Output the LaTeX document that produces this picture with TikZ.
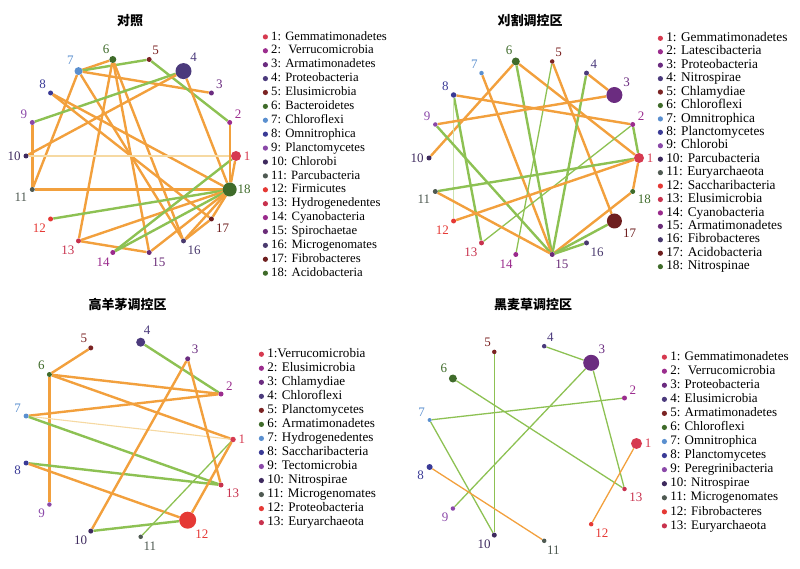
\documentclass[tikz,border=0pt]{standalone}
\usepackage{fontspec}
\setmainfont{Liberation Serif}
\newfontfamily\cjk{Noto Sans CJK SC}
\usetikzlibrary{backgrounds}
\definecolor{c1}{HTML}{D63A50}
\definecolor{c2}{HTML}{9B2D8E}
\definecolor{c3}{HTML}{6B2C80}
\definecolor{c4}{HTML}{4B3A7C}
\definecolor{c5}{HTML}{7B2323}
\definecolor{c6}{HTML}{3F6B2A}
\definecolor{c7}{HTML}{5A8FCF}
\definecolor{c8}{HTML}{3A3A96}
\definecolor{c9}{HTML}{8A48A8}
\definecolor{c10}{HTML}{3E2A5E}
\definecolor{c11}{HTML}{4F5A52}
\definecolor{c12}{HTML}{E53935}
\definecolor{c13}{HTML}{C8324E}
\definecolor{c14}{HTML}{9A2A8C}
\definecolor{c15}{HTML}{6A2C78}
\definecolor{c16}{HTML}{4A3A6E}
\definecolor{c17}{HTML}{6E1E1E}
\definecolor{c18}{HTML}{3F6B2A}
\definecolor{posc}{HTML}{F2A03D}
\definecolor{negc}{HTML}{8DC153}
\definecolor{faintc}{HTML}{F6D9A2}
\newcommand\legdot[1]{\raisebox{0.1ex}{\tikz\fill[#1] (0,0) circle (2.6pt);}}

\begin{document}
\begin{tikzpicture}[x=1pt,y=-1pt,
    taxon/.style={circle,inner sep=0pt,minimum size=#1},taxon/.default=5pt,
    every label/.style={font=\fontsize{13}{13}\selectfont,inner sep=2.5pt},
    posedge/.style={draw=posc,line width=2.4pt},
    negedge/.style={draw=negc,line width=2.4pt},
    thinpos/.style={draw=posc,line width=1.3pt},
    thinneg/.style={draw=negc,line width=1.3pt},
    faintpos/.style={draw=faintc,line width=1.1pt},
    faintneg/.style={draw=negc!45,line width=0.8pt},
    paneltitle/.style={font=\cjk\bfseries\fontsize{13}{13}\selectfont},
    keybox/.style={anchor=west,align=left,inner sep=0pt}]
  \useasboundingbox (0,0) rectangle (800,569);

  % 对照
  \node[paneltitle] (ta) at (130,20.5) {对照};
  \node[taxon=10pt,fill=c1,label={[text=c1]0:1}]    (a1)  at (236,156)      {};
  \node[taxon,fill=c2,label={[text=c2]20:2}]        (a2)  at (229.7,122.5)  {};
  \node[taxon,fill=c3,label={[text=c3]40:3}]        (a3)  at (211.4,93)     {};
  \node[taxon=16pt,fill=c4,label={[text=c4]60:4}]   (a4)  at (183.5,71.1)   {};
  \node[taxon,fill=c5,label={[text=c5]80:5}]        (a5)  at (149.2,59.5)   {};
  \node[taxon=7pt,fill=c6,label={[text=c6]100:6}]   (a6)  at (112.8,59.5)   {};
  \node[taxon=8pt,fill=c7,label={[text=c7]120:7}]   (a7)  at (78.5,71.1)    {};
  \node[taxon,fill=c8,label={[text=c8]140:8}]       (a8)  at (50.6,93)      {};
  \node[taxon,fill=c9,label={[text=c9]160:9}]       (a9)  at (32.3,122.5)   {};
  \node[taxon,fill=c10,label={[text=c10]180:10}]    (a10) at (26,156)       {};
  \node[taxon,fill=c11,label={[text=c11]200:11}]    (a11) at (32.3,189.5)   {};
  \node[taxon,fill=c12,label={[text=c12]220:12}]    (a12) at (50.6,219)     {};
  \node[taxon,fill=c13,label={[text=c13]240:13}]    (a13) at (78.5,240.9)   {};
  \node[taxon,fill=c14,label={[text=c14]260:14}]    (a14) at (112.8,252.5)  {};
  \node[taxon,fill=c15,label={[text=c15]280:15}]    (a15) at (149.2,252.5)  {};
  \node[taxon,fill=c16,label={[text=c16]300:16}]    (a16) at (183.5,240.9)  {};
  \node[taxon,fill=c17,label={[text=c17]320:17}]    (a17) at (211.4,219)    {};
  \node[taxon=14pt,fill=c18,label={[text=c18,xshift=-2pt]0:18}] (a18) at (229.7,189.5) {};
  \begin{scope}[on background layer]
    \path (a7) edge[posedge] (a6)
               edge[negedge] (a5)
               edge[posedge] (a3)
               edge[posedge] (a11)
               edge[posedge] (a16)
          (a6) edge[posedge] (a13)
               edge[posedge] (a15)
               edge[posedge] (a16)
          (a5) edge[negedge] (a2)
          (a4) edge[negedge] (a9)
               edge[posedge] (a10)
               edge[posedge] (a18)
          (a8) edge[posedge] (a18)
               edge[posedge] (a17)
          (a9) edge[posedge] (a11)
          (a10) edge[faintpos] (a1)
          (a11) edge[posedge] (a18)
          (a12) edge[negedge] (a18)
          (a13) edge[posedge] (a18)
                edge[posedge] (a15)
          (a14) edge[negedge] (a18)
                edge[negedge] (a1)
          (a15) edge[posedge] (a18)
          (a16) edge[posedge] (a18)
                edge[posedge] (a17)
          (a17) edge[posedge] (a18)
          (a2) edge[posedge] (a18)
          (a1) edge[posedge] (a18);
  \end{scope}
  \node[keybox,font=\fontsize{12.7}{13.9}\selectfont] (ka) at (262.6,153.9) {%
    \legdot{c1}\ 1: Gemmatimonadetes\\
    \legdot{c2}\ 2:~ Verrucomicrobia\\
    \legdot{c3}\ 3: Armatimonadetes\\
    \legdot{c4}\ 4: Proteobacteria\\
    \legdot{c5}\ 5: Elusimicrobia\\
    \legdot{c6}\ 6: Bacteroidetes\\
    \legdot{c7}\ 7: Chloroflexi\\
    \legdot{c8}\ 8: Omnitrophica\\
    \legdot{c9}\ 9: Planctomycetes\\
    \legdot{c10}\ 10: Chlorobi\\
    \legdot{c11}\ 11: Parcubacteria\\
    \legdot{c12}\ 12: Firmicutes\\
    \legdot{c13}\ 13: Hydrogenedentes\\
    \legdot{c14}\ 14: Cyanobacteria\\
    \legdot{c15}\ 15: Spirochaetae\\
    \legdot{c16}\ 16: Microgenomates\\
    \legdot{c17}\ 17: Fibrobacteres\\
    \legdot{c18}\ 18: Acidobacteria};

  % 刈割调控区
  \node[paneltitle] (tb) at (530,20.5) {刈割调控区};
  \node[taxon=10pt,fill=c1,label={[text=c1]0:1}]    (b1)  at (639,158)      {};
  \node[taxon,fill=c2,label={[text=c2]20:2}]        (b2)  at (632.7,124.5)  {};
  \node[taxon=16pt,fill=c3,label={[text=c3]40:3}]   (b3)  at (614.4,95)     {};
  \node[taxon,fill=c4,label={[text=c4]60:4}]        (b4)  at (586.5,73.1)   {};
  \node[taxon=4.5pt,fill=c5,label={[text=c5]80:5}]  (b5)  at (552.2,61.5)   {};
  \node[taxon=8pt,fill=c6,label={[text=c6]100:6}]   (b6)  at (515.8,61.5)   {};
  \node[taxon=4.5pt,fill=c7,label={[text=c7]120:7}] (b7)  at (481.5,73.1)   {};
  \node[taxon=5.5pt,fill=c8,label={[text=c8]140:8}] (b8)  at (453.6,95)     {};
  \node[taxon=4.5pt,fill=c9,label={[text=c9]160:9}] (b9)  at (435.3,124.5)  {};
  \node[taxon,fill=c10,label={[text=c10]180:10}]    (b10) at (429,158)      {};
  \node[taxon,fill=c11,label={[text=c11]200:11}]    (b11) at (435.3,191.5)  {};
  \node[taxon,fill=c12,label={[text=c12]220:12}]    (b12) at (453.6,221)    {};
  \node[taxon,fill=c13,label={[text=c13]240:13}]    (b13) at (481.5,242.9)  {};
  \node[taxon,fill=c14,label={[text=c14]260:14}]    (b14) at (515.8,254.5)  {};
  \node[taxon,fill=c15,label={[text=c15]280:15}]    (b15) at (552.2,254.5)  {};
  \node[taxon,fill=c16,label={[text=c16]300:16}]    (b16) at (586.5,242.9)  {};
  \node[taxon=15pt,fill=c17,label={[text=c17]320:17}] (b17) at (614.4,221)  {};
  \node[taxon,fill=c18,label={[text=c18]340:18}]    (b18) at (632.7,191.5)  {};
  \begin{scope}[on background layer]
    \path (b6) edge[posedge] (b10)
               edge[negedge] (b15)
               edge[posedge] (b1)
          (b7) edge[posedge] (b15)
          (b5) edge[thinneg] (b14)
               edge[posedge] (b17)
          (b4) edge[posedge] (b3)
               edge[negedge] (b15)
          (b8) edge[posedge] (b2)
               edge[negedge] (b13)
               edge[faintneg] (b12)
          (b9) edge[posedge] (b3)
               edge[negedge] (b15)
          (b2) edge[negedge] (b1)
               edge[thinneg] (b13)
          (b1) edge[negedge] (b11)
               edge[posedge] (b12)
               edge[posedge] (b18)
          (b11) edge[posedge] (b15)
          (b18) edge[posedge] (b15)
          (b15) edge[negedge] (b17)
                edge[negedge] (b16);
  \end{scope}
  \node[keybox,font=\fontsize{13.3}{13.43}\selectfont] (kb) at (657.6,152.5) {%
    \legdot{c1}\ 1: Gemmatimonadetes\\
    \legdot{c2}\ 2: Latescibacteria\\
    \legdot{c3}\ 3: Proteobacteria\\
    \legdot{c4}\ 4: Nitrospirae\\
    \legdot{c5}\ 5: Chlamydiae\\
    \legdot{c6}\ 6: Chloroflexi\\
    \legdot{c7}\ 7: Omnitrophica\\
    \legdot{c8}\ 8: Planctomycetes\\
    \legdot{c9}\ 9: Chlorobi\\
    \legdot{c10}\ 10: Parcubacteria\\
    \legdot{c11}\ 11: Euryarchaeota\\
    \legdot{c12}\ 12: Saccharibacteria\\
    \legdot{c13}\ 13: Elusimicrobia\\
    \legdot{c14}\ 14: Cyanobacteria\\
    \legdot{c15}\ 15: Armatimonadetes\\
    \legdot{c16}\ 16: Fibrobacteres\\
    \legdot{c17}\ 17: Acidobacteria\\
    \legdot{c18}\ 18: Nitrospinae};

  % 高羊茅调控区
  \node[paneltitle] (tc) at (127.7,305) {高羊茅调控区};
  \node[taxon=5.5pt,fill=c1,label={[text=c1]0:1}]     (c1)  at (233,439.5)   {};
  \node[taxon,fill=c2,label={[text=c2]27.7:2}]        (c2)  at (221,394)     {};
  \node[taxon,fill=c3,label={[text=c3]55.4:3}]        (c3)  at (187.7,358.8) {};
  \node[taxon=9pt,fill=c4,label={[text=c4]83.1:4}]    (c4)  at (140.7,342.2) {};
  \node[taxon,fill=c5,label={[text=c5]110.8:5}]       (c5)  at (90.8,347.9)  {};
  \node[taxon,fill=c6,label={[text=c6]138.5:6}]       (c6)  at (49.4,374.5)  {};
  \node[taxon,fill=c7,label={[text=c7]166.2:7}]       (c7)  at (26.1,416)    {};
  \node[taxon,fill=c8,label={[text=c8]193.8:8}]       (c8)  at (26.1,463)    {};
  \node[taxon=4.5pt,fill=c9,label={[text=c9]221.5:9}] (c9)  at (49.4,504.5)  {};
  \node[taxon,fill=c10,label={[text=c10]249.2:10}]    (c10) at (90.8,531.1)  {};
  \node[taxon=4.5pt,fill=c11,label={[text=c11]276.9:11}] (c11) at (140.7,536.8) {};
  \node[taxon=17pt,fill=c12,label={[text=c12]304.6:12}] (c12) at (187.7,520.2) {};
  \node[taxon,fill=c13,label={[text=c13]332.3:13}]    (c13) at (221,485)     {};
  \begin{scope}[on background layer]
    \path (c5) edge[posedge] (c6)
          (c4) edge[negedge] (c2)
          (c6) edge[posedge] (c9)
               edge[posedge] (c2)
               edge[posedge] (c1)
          (c7) edge[posedge] (c2)
               edge[faintpos] (c1)
               edge[negedge] (c13)
          (c8) edge[negedge] (c13)
               edge[posedge] (c12)
          (c3) edge[posedge] (c10)
               edge[posedge] (c13)
          (c1) edge[thinneg] (c11)
               edge[posedge] (c12)
          (c10) edge[negedge] (c12);
  \end{scope}
  \node[keybox,font=\fontsize{13.1}{14.03}\selectfont] (kc) at (258.6,438.5) {%
    \legdot{c1}\ 1:Verrucomicrobia\\
    \legdot{c2}\ 2: Elusimicrobia\\
    \legdot{c3}\ 3: Chlamydiae\\
    \legdot{c4}\ 4: Chloroflexi\\
    \legdot{c5}\ 5: Planctomycetes\\
    \legdot{c6}\ 6: Armatimonadetes\\
    \legdot{c7}\ 7: Hydrogenedentes\\
    \legdot{c8}\ 8: Saccharibacteria\\
    \legdot{c9}\ 9: Tectomicrobia\\
    \legdot{c10}\ 10: Nitrospirae\\
    \legdot{c11}\ 11: Microgenomates\\
    \legdot{c12}\ 12: Proteobacteria\\
    \legdot{c13}\ 13: Euryarchaeota};

  % 黑麦草调控区
  \node[paneltitle] (td) at (533,305) {黑麦草调控区};
  \node[taxon=11pt,fill=c1,label={[text=c1]0:1}]      (d1)  at (636.5,443.5) {};
  \node[taxon,fill=c2,label={[text=c2]27.7:2}]        (d2)  at (624.5,398)   {};
  \node[taxon=16pt,fill=c3,label={[text=c3]55.4:3}]   (d3)  at (591.2,362.8) {};
  \node[taxon=4.5pt,fill=c4,label={[text=c4]83.1:4}]  (d4)  at (544.2,346.2) {};
  \node[taxon=4.5pt,fill=c5,label={[text=c5]110.8:5}] (d5)  at (494.3,351.9) {};
  \node[taxon=8pt,fill=c6,label={[text=c6]138.5:6}]   (d6)  at (452.9,378.5) {};
  \node[taxon=4pt,fill=c7,label={[text=c7]166.2:7}]   (d7)  at (429.6,420)   {};
  \node[taxon=6pt,fill=c8,label={[text=c8]193.8:8}]   (d8)  at (429.6,467)   {};
  \node[taxon=4.5pt,fill=c9,label={[text=c9]221.5:9}] (d9)  at (452.9,508.5) {};
  \node[taxon,fill=c10,label={[text=c10]249.2:10}]    (d10) at (494.3,535.1) {};
  \node[taxon=4.5pt,fill=c11,label={[text=c11]276.9:11}] (d11) at (544.2,540.8) {};
  \node[taxon=4.5pt,fill=c12,label={[text=c12]304.6:12}] (d12) at (591.2,524.2) {};
  \node[taxon=4.5pt,fill=c13,label={[text=c13]332.3:13}] (d13) at (624.5,489) {};
  \begin{scope}[on background layer]
    \path (d4) edge[thinneg] (d3)
          (d5) edge[thinneg] (d10)
          (d6) edge[thinneg] (d13)
          (d7) edge[thinneg] (d2)
               edge[thinneg] (d10)
          (d3) edge[thinneg] (d9)
               edge[thinneg] (d13)
          (d8) edge[thinpos] (d11)
          (d1) edge[thinpos] (d12);
  \end{scope}
  \node[keybox,font=\fontsize{13}{14.06}\selectfont] (kd) at (661.6,441.6) {%
    \legdot{c1}\ 1: Gemmatimonadetes\\
    \legdot{c2}\ 2:~ Verrucomicrobia\\
    \legdot{c3}\ 3: Proteobacteria\\
    \legdot{c4}\ 4: Elusimicrobia\\
    \legdot{c5}\ 5: Armatimonadetes\\
    \legdot{c6}\ 6: Chloroflexi\\
    \legdot{c7}\ 7: Omnitrophica\\
    \legdot{c8}\ 8: Planctomycetes\\
    \legdot{c9}\ 9: Peregrinibacteria\\
    \legdot{c10}\ 10: Nitrospirae\\
    \legdot{c11}\ 11: Microgenomates\\
    \legdot{c12}\ 12: Fibrobacteres\\
    \legdot{c13}\ 13: Euryarchaeota};
\end{tikzpicture}
\end{document}
